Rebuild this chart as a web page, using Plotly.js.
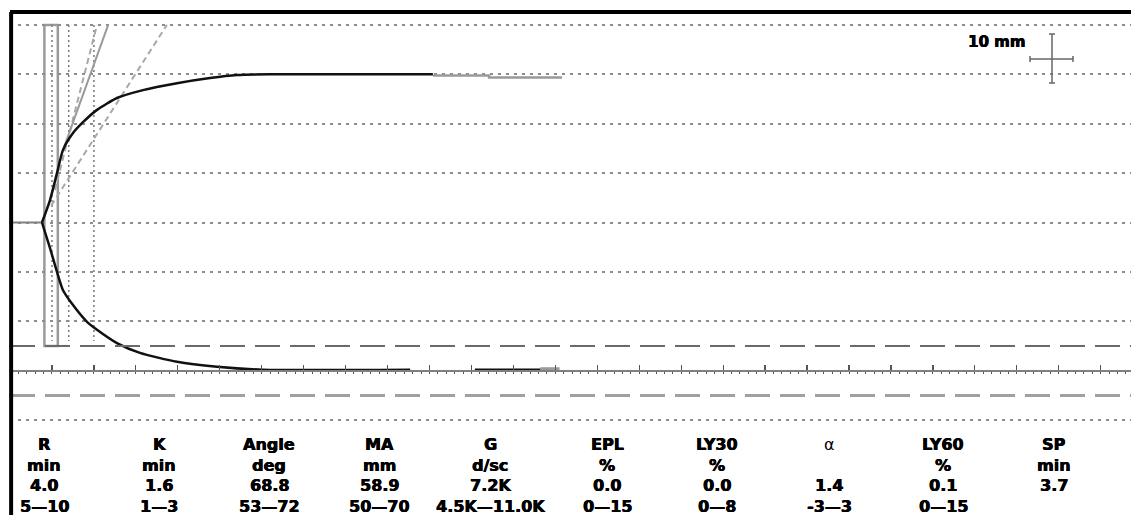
<!DOCTYPE html>
<html>
<head>
<meta charset="utf-8">
<script src="https://cdn.plot.ly/plotly-3.0.1.min.js"></script>
<style>html,body{margin:0;padding:0;background:#fff;}#chart{width:1131px;height:515px;}</style>
</head>
<body>
<div id="chart"></div>
<script>
// ---- Data (time in minutes, amplitude in mm from baseline) ----
const baseT = [0, 3.81];
const baseA = [0, 0];

const upperT = [3.81, 4.77, 5.60, 6.32, 7.51, 8.70, 10.37, 12.75, 15.85, 19.90, 23.84, 27.06, 31.0, 40.0, 50.4];
const upperA = [0, 4.55, 10.0, 14.7, 18.1, 20.3, 22.8, 25.2, 26.8, 28.2, 29.25, 29.85, 30.0, 30.0, 30.0];

const upperTailT = [50.4, 57.1, 57.1, 65.8];
const upperTailA = [29.75, 29.75, 29.35, 29.35];

const lowerT = [3.81, 4.77, 5.60, 6.32, 7.51, 9.18, 10.37, 12.75, 15.49, 19.90, 24.67, 30.15, 47.7];
const lowerA = [0, -5.2, -10.0, -13.7, -16.7, -20.1, -21.7, -24.4, -26.4, -28.2, -29.2, -29.8, -29.8];

const lowerSeg2T = [55.4, 63.2];
const lowerSeg2A = [-29.8, -29.8];
const lowerTailT = [63.2, 65.5];
const lowerTailA = [-29.6, -29.6];

const angleLineT = [6.5, 11.7];
const angleLineA = [15.5, 40];
const angleLowT = [4.9, 18.7];
const angleLowA = [3.4, 40];
const angleHighT = [5.36, 10.37];
const angleHighA = [6.6, 40];

const rBoxT = [4.1, 5.7];
const refTimes = [5, 7, 10];
const MArange = [50, 70];
const gridVals = [-40, -30, -20, -10, 0, 10, 20, 30, 40];

// table
const params = ['R', 'K', 'Angle', 'MA', 'G', 'EPL', 'LY30', 'α', 'LY60', 'SP'];
const units  = ['min', 'min', 'deg', 'mm', 'd/sc', '%', '%', '', '%', 'min'];
const values = ['4.0', '1.6', '68.8', '58.9', '7.2K', '0.0', '0.0', '1.4', '0.1', '3.7'];
const ranges = ['5—10', '1—3', '53—72', '50—70', '4.5K—11.0K', '0—15', '0—8', '-3—3', '0—15', ''];
const colX   = [44, 159, 269, 379, 490, 607, 717, 829, 943, 1054]; // pixel centres

// ---- geometry ----
const W = 1131, H = 515, ML = 10, MT = 12;
const pxPerMin = 8.39, pxPerMm = 4.94, baseY = 222.5;
const xMax = (W - ML) / pxPerMin;
const yTop = (baseY - MT) / pxPerMm;
const yBot = -(H - baseY) / pxPerMm;
const px2t = px => (px - ML) / pxPerMin;
const py2a = py => (baseY - py) / pxPerMm;

const black = '#111';
const gray = '#9a9a9a';

const traces = [
  {x: baseT, y: baseA, mode: 'lines', line: {color: '#808080', width: 2}},
  {x: angleLowT, y: angleLowA, mode: 'lines', line: {color: '#a8a8a8', width: 2, dash: '6px,4px'}},
  {x: angleHighT, y: angleHighA, mode: 'lines', line: {color: '#a8a8a8', width: 2, dash: '6px,4px'}},
  {x: angleLineT, y: angleLineA, mode: 'lines', line: {color: gray, width: 2}},
  {x: upperTailT, y: upperTailA, mode: 'lines', line: {color: gray, width: 2.5}},
  {x: lowerTailT, y: lowerTailA, mode: 'lines', line: {color: gray, width: 3}},
  {x: upperT, y: upperA, mode: 'lines', line: {color: black, width: 2.5, shape: 'spline', smoothing: 0.6}},
  {x: lowerT, y: lowerA, mode: 'lines', line: {color: black, width: 2.5, shape: 'spline', smoothing: 0.6}},
  {x: lowerSeg2T, y: lowerSeg2A, mode: 'lines', line: {color: black, width: 2.5}}
];

const shapes = [];
// MA normal range lines (lower half)
shapes.push({type: 'line', xref: 'paper', x0: 0, x1: 1, yref: 'y', y0: -MArange[0] / 2, y1: -MArange[0] / 2,
  line: {color: '#6a6a6a', width: 2, dash: '25px,10px'}, layer: 'above'});
shapes.push({type: 'line', xref: 'paper', x0: 0, x1: 1, yref: 'y', y0: -MArange[1] / 2, y1: -MArange[1] / 2,
  line: {color: '#a0a0a0', width: 3, dash: '25px,10px'}, layer: 'above'});
// dotted reference verticals
refTimes.forEach(t => shapes.push({type: 'line', x0: t, x1: t, y0: 40, y1: -24,
  line: {color: '#7a7a7a', width: 1.5, dash: '2px,3px'}, layer: 'below'}));
// R / K box
shapes.push({type: 'rect', x0: rBoxT[0], x1: rBoxT[1], y0: -25, y1: 40, line: {color: gray, width: 2.5}, layer: 'below'});
// scale cross (10 mm)
const cx = px2t(1052), cy = py2a(59);
const vTop = py2a(34), vBot = py2a(83);
const hL = px2t(1030), hR = px2t(1073);
const capT = 3 / pxPerMin, capA = 3 / pxPerMm;
const crossLine = {color: '#666', width: 1.5};
shapes.push({type: 'line', x0: cx, x1: cx, y0: vTop, y1: vBot, line: crossLine});
shapes.push({type: 'line', x0: hL, x1: hR, y0: cy, y1: cy, line: crossLine});
shapes.push({type: 'line', x0: cx - capT, x1: cx + capT, y0: vTop, y1: vTop, line: crossLine});
shapes.push({type: 'line', x0: cx - capT, x1: cx + capT, y0: vBot, y1: vBot, line: crossLine});
shapes.push({type: 'line', x0: hL, x1: hL, y0: cy - capA, y1: cy + capA, line: crossLine});
shapes.push({type: 'line', x0: hR, x1: hR, y0: cy - capA, y1: cy + capA, line: crossLine});
// frame
shapes.push({type: 'line', xref: 'paper', yref: 'paper', x0: 0.001, x1: 0.001, y0: -0.05, y1: 1, line: {color: '#000', width: 4}});
shapes.push({type: 'line', xref: 'paper', yref: 'paper', x0: 0, x1: 1.01, y0: 1, y1: 1, line: {color: '#000', width: 4}});

const annotations = [];
const rowPy = [444, 465, 485, 506];
const heavy = '0.45px 0px 0px #000, -0.2px 0px 0px #000';
const fontB = {family: 'DejaVu Sans', size: 16, color: '#000', weight: 'bold', shadow: heavy};
params.forEach((p, i) => {
  const rows = [p, units[i], values[i], ranges[i]];
  rows.forEach((txt, r) => {
    if (!txt) return;
    const f = Object.assign({}, fontB);
    if (p === 'α' && r === 0) { f.weight = 'normal'; f.shadow = 'none'; }
    annotations.push({xref: 'x', yref: 'y', x: px2t(colX[i]), y: py2a(rowPy[r]), text: txt,
      showarrow: false, xanchor: 'center', yanchor: 'middle', font: f});
  });
});
annotations.push({xref: 'x', yref: 'y', x: px2t(996), y: py2a(42), text: '10 mm', showarrow: false,
  xanchor: 'center', yanchor: 'middle', font: {family: 'DejaVu Sans', size: 15, color: '#000', weight: 'bold', shadow: heavy}});

const layout = {
  width: W, height: H,
  margin: {l: ML, r: 0, t: MT, b: 0, pad: 0},
  paper_bgcolor: '#fff', plot_bgcolor: '#fff',
  showlegend: false,
  xaxis: {
    range: [0, xMax], anchor: 'free', position: (H - (baseY + 30 * pxPerMm)) / (H - MT),
    showgrid: false, zeroline: false, showline: true, linecolor: '#808080', linewidth: 2,
    ticks: 'inside', ticklen: 5, tickwidth: 1.2, tickcolor: '#555', tick0: 0, dtick: 5,
    minor: {ticks: 'outside', dtick: 1, ticklen: 2, tickwidth: 1, tickcolor: '#555'},
    showticklabels: false, fixedrange: true
  },
  yaxis: {
    range: [yBot, yTop], tickmode: 'array', tickvals: gridVals, showticklabels: false,
    showgrid: true, gridcolor: '#8c8c8c', gridwidth: 2, griddash: '3px,5px',
    zeroline: false, showline: false, ticks: '', fixedrange: true
  },
  shapes: shapes,
  annotations: annotations
};

Plotly.newPlot('chart', traces, layout, {displayModeBar: false, staticPlot: true});
</script>
</body>
</html>
